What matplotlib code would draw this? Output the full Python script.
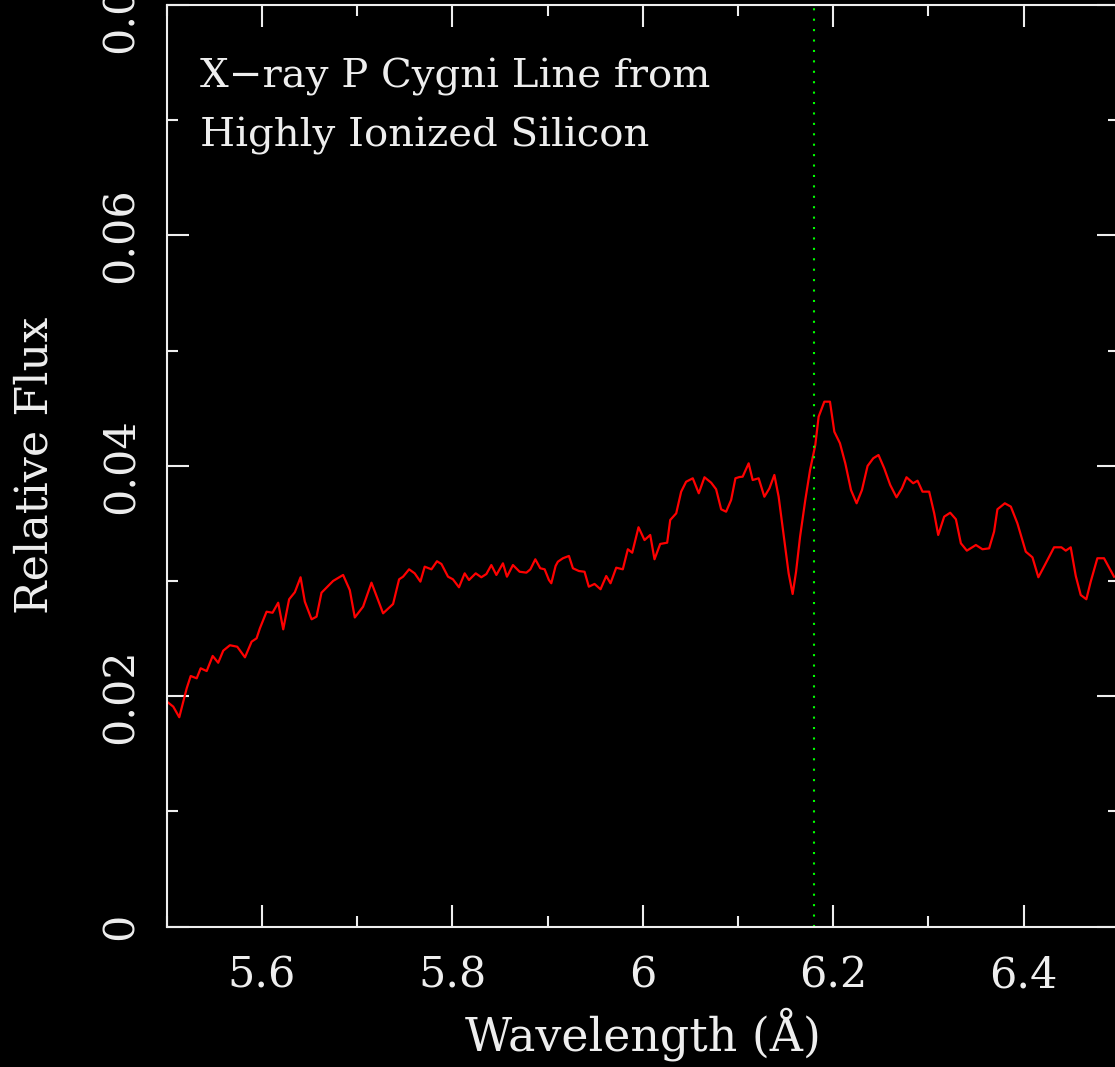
import matplotlib
matplotlib.use("Agg")
from matplotlib import pyplot as plt
from matplotlib.ticker import MultipleLocator, FuncFormatter

# spectrum (wavelength in A, relative flux)
wavelength = [5.5017, 5.5069, 5.5132, 5.5174, 5.5210, 5.5252, 5.5315, 5.5357, 5.5420, 5.5483,
              5.5541, 5.5594, 5.5664, 5.5741, 5.5822, 5.5892, 5.5944, 5.5979, 5.6049, 5.6112,
              5.6171, 5.6224, 5.6286, 5.6346, 5.6406, 5.6451, 5.6522, 5.6574, 5.6626, 5.6748,
              5.6853, 5.6923, 5.6976, 5.7063, 5.7151, 5.7273, 5.7378, 5.7441, 5.7483, 5.7546,
              5.7605, 5.7665, 5.7710, 5.7781, 5.7839, 5.7886, 5.7955, 5.8007, 5.8070, 5.8130,
              5.8175, 5.8246, 5.8305, 5.8358, 5.8410, 5.8463, 5.8532, 5.8574, 5.8637, 5.8707,
              5.8778, 5.8820, 5.8872, 5.8924, 5.8970, 5.9015, 5.9040, 5.9085, 5.9109, 5.9162,
              5.9225, 5.9267, 5.9330, 5.9389, 5.9434, 5.9494, 5.9557, 5.9617, 5.9662, 5.9722,
              5.9791, 5.9844, 5.9890, 5.9956, 6.0019, 6.0079, 6.0124, 6.0184, 6.0257, 6.0289,
              6.0352, 6.0404, 6.0456, 6.0526, 6.0589, 6.0649, 6.0719, 6.0771, 6.0824, 6.0876,
              6.0929, 6.0974, 6.1016, 6.1050, 6.1113, 6.1155, 6.1218, 6.1278, 6.1331, 6.1383,
              6.1428, 6.1478, 6.1533, 6.1575, 6.1611, 6.1653, 6.1708, 6.1758, 6.1813, 6.1848,
              6.1908, 6.1967, 6.2013, 6.2072, 6.2128, 6.2188, 6.2247, 6.2303, 6.2362, 6.2422,
              6.2477, 6.2537, 6.2600, 6.2666, 6.2723, 6.2771, 6.2841, 6.2887, 6.2939, 6.3009,
              6.3062, 6.3104, 6.3167, 6.3230, 6.3290, 6.3342, 6.3405, 6.3500, 6.3569, 6.3639,
              6.3691, 6.3726, 6.3804, 6.3867, 6.3936, 6.4024, 6.4094, 6.4156, 6.4224, 6.4321,
              6.4398, 6.4444, 6.4496, 6.4549, 6.4601, 6.4660, 6.4706, 6.4776, 6.4846, 6.4951]
flux = [0.01944, 0.01910, 0.01818, 0.01953, 0.02069, 0.02176, 0.02156, 0.02243, 0.02219, 0.02350,
        0.02291, 0.02396, 0.02443, 0.02430, 0.02338, 0.02474, 0.02503, 0.02590, 0.02734, 0.02725,
        0.02812, 0.02581, 0.02842, 0.02903, 0.03033, 0.02821, 0.02668, 0.02691, 0.02899, 0.03001,
        0.03053, 0.02922, 0.02684, 0.02778, 0.02986, 0.02720, 0.02801, 0.03015, 0.03038, 0.03102,
        0.03067, 0.02995, 0.03125, 0.03102, 0.03172, 0.03148, 0.03038, 0.03015, 0.02946, 0.03067,
        0.03009, 0.03067, 0.03033, 0.03061, 0.03139, 0.03053, 0.03154, 0.03038, 0.03139, 0.03081,
        0.03073, 0.03102, 0.03189, 0.03111, 0.03102, 0.03009, 0.02981, 0.03131, 0.03168, 0.03198,
        0.03218, 0.03111, 0.03087, 0.03081, 0.02951, 0.02975, 0.02929, 0.03044, 0.02981, 0.03116,
        0.03102, 0.03276, 0.03246, 0.03467, 0.03356, 0.03400, 0.03189, 0.03322, 0.03333, 0.03530,
        0.03588, 0.03776, 0.03862, 0.03892, 0.03762, 0.03901, 0.03854, 0.03797, 0.03623, 0.03602,
        0.03704, 0.03892, 0.03903, 0.03906, 0.04022, 0.03877, 0.03892, 0.03732, 0.03805, 0.03921,
        0.03732, 0.03415, 0.03067, 0.02888, 0.03081, 0.03385, 0.03704, 0.03964, 0.04181, 0.04427,
        0.04557, 0.04557, 0.04296, 0.04196, 0.04022, 0.03790, 0.03675, 0.03790, 0.03999, 0.04066,
        0.04094, 0.03979, 0.03834, 0.03727, 0.03805, 0.03901, 0.03849, 0.03871, 0.03776, 0.03776,
        0.03588, 0.03400, 0.03559, 0.03593, 0.03536, 0.03328, 0.03264, 0.03313, 0.03276, 0.03284,
        0.03429, 0.03623, 0.03675, 0.03646, 0.03501, 0.03255, 0.03206, 0.03033, 0.03139, 0.03293,
        0.03293, 0.03264, 0.03293, 0.03044, 0.02879, 0.02842, 0.02995, 0.03198, 0.03198, 0.03038]

line_center = 6.18   # Si XIV rest wavelength
x_range = [5.5, 6.5]
y_range = [0, 0.08]
title_lines = ["X\u2212ray P Cygni Line from", "Highly Ionized Silicon"]

fg = '#eeeeee'
plt.rcParams['font.family'] = ['DejaVu Serif']

fig = plt.figure(figsize=(11.15, 10.67), dpi=100, facecolor='black')
ax = fig.add_axes([166.7 / 1115, 140.3 / 1067, 952 / 1115, 921.7 / 1067])
ax.set_facecolor('black')

ax.plot(wavelength, flux, color='#ff0000', lw=1.6)
ax.axvline(line_center, color='#00ff00', lw=1.5, linestyle=(0, (1, 4)))

ax.set_xlim(x_range)
ax.set_ylim(y_range)

ax.xaxis.set_major_locator(MultipleLocator(0.2))
ax.xaxis.set_minor_locator(MultipleLocator(0.1))
ax.yaxis.set_major_locator(MultipleLocator(0.02))
ax.yaxis.set_minor_locator(MultipleLocator(0.01))
ax.xaxis.set_major_formatter(FuncFormatter(lambda v, p: '%g' % round(v, 2)))
ax.yaxis.set_major_formatter(FuncFormatter(lambda v, p: '0' if abs(v) < 1e-9 else '%.2f' % v))

for s in ax.spines.values():
    s.set_color(fg)
    s.set_linewidth(1.5)
ax.tick_params(which='both', direction='in', top=True, right=True, color=fg, width=1.5,
               labelcolor=fg, labelsize=31)
ax.tick_params(which='major', length=16)
ax.tick_params(which='minor', length=8)
ax.tick_params(axis='x', pad=20)
ax.tick_params(axis='y', pad=18, labelrotation=90)
for lab in ax.get_yticklabels():
    lab.set_va('center')

ax.set_xlabel('Wavelength (\u00c5)', color=fg, fontsize=33)
ax.set_ylabel('Relative Flux', color=fg, fontsize=32)
ax.xaxis.label.set_va('center')
ax.yaxis.label.set_va('center')
ax.xaxis.set_label_coords(0.5, -0.1164)
ax.yaxis.set_label_coords(-0.138, 0.5)

ax.text(0.035, 0.910, title_lines[0], transform=ax.transAxes, color=fg, fontsize=29, va='baseline')
ax.text(0.035, 0.846, title_lines[1], transform=ax.transAxes, color=fg, fontsize=29, va='baseline')

fig.savefig('out.png', dpi=100, facecolor='black')
